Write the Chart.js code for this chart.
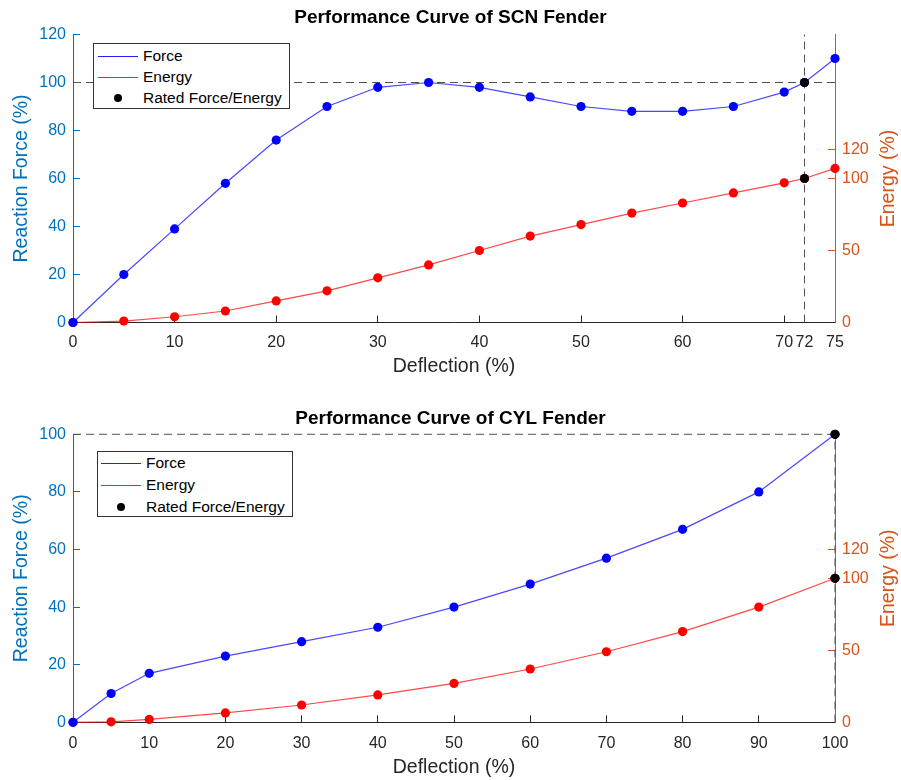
<!DOCTYPE html>
<html>
<head>
<meta charset="utf-8">
<title>Fender performance curves</title>
<script src="https://cdn.jsdelivr.net/npm/chart.js@4.4.1/dist/chart.umd.min.js"></script>
<style>
  html, body { margin: 0; padding: 0; background: #fff; }
  body { width: 901px; height: 780px; position: relative; overflow: hidden; font-family: "Liberation Sans", Arial, Helvetica, sans-serif; }
  .panel { position: absolute; left: 0; width: 901px; height: 390px; }
  .panel canvas { display: block; }
  .legend { position: absolute; box-sizing: border-box; background: #fff; border: 1px solid #333; font-size: 15.5px; color: #000; }
  .legend .row { position: relative; }
  .legend .key { position: absolute; top: 50%; width: 40px; height: 0; }
  .legend .key .ln { position: absolute; left: 0; width: 40px; top: 0; height: 0; border-top: 1px solid; }
  .legend .key .dot { position: absolute; left: 16px; top: -4px; width: 8px; height: 8px; border-radius: 50%; }
  .legend .txt { position: absolute; top: 50%; transform: translateY(-50%); white-space: nowrap; }
</style>
</head>
<body>
<div class="panel" id="scnPanel" style="top:0"><canvas id="scnChart" width="901" height="390"></canvas></div>
<div class="panel" id="cylPanel" style="top:390px"><canvas id="cylChart" width="901" height="390"></canvas></div>
<script>
// SCN fender (top)
const scnDeflection = [0, 5, 10, 15, 20, 25, 30, 35, 40, 45, 50, 55, 60, 65, 70, 72, 75];
const scnForce      = [0, 20, 39, 58, 76, 90, 98, 100, 98, 94, 90, 88, 88, 90, 96, 100, 110];
const scnEnergy     = [0, 1, 4, 8, 15, 22, 31, 40, 50, 60, 68, 76, 83, 90, 97, 100, 107];
const scnRated      = [72, 100, 100]; // deflection, force, energy
const scnXTicks     = [0, 10, 20, 30, 40, 50, 60, 70, 72, 75];
const scnForceTicks = [0, 20, 40, 60, 80, 100, 120];

// CYL fender (bottom)
const cylDeflection = [0, 5, 10, 20, 30, 40, 50, 60, 70, 80, 90, 100];
const cylForce      = [0, 10, 17, 23, 28, 33, 40, 48, 57, 67, 80, 100];
const cylEnergy     = [0, 0.3, 2, 6.5, 12, 19, 27, 37, 49, 63, 80, 100];
const cylRated      = [100, 100, 100];
const cylXTicks     = [0, 10, 20, 30, 40, 50, 60, 70, 80, 90, 100];
const cylForceTicks = [0, 20, 40, 60, 80, 100];

const energyTicks = [0, 50, 100, 120];
const energyMax = 200;

const BLUE_AX = '#0072BD', ORANGE_AX = '#D95319', DARK = '#262626';
Chart.defaults.font.family = '"Liberation Sans", Arial, Helvetica, sans-serif';

function pts(xs, ys) { return xs.map((x, i) => ({x: x, y: ys[i]})); }
function fixedTicks(arr) { return scale => { scale.ticks = arr.map(v => ({value: v})); }; }

// right axis label reads bottom-to-top like the left one
const rightTitle = {
  id: 'rightTitle',
  afterDraw(chart, args, opts) {
    const {ctx, chartArea} = chart;
    ctx.save();
    ctx.translate(opts.x, (chartArea.top + chartArea.bottom) / 2);
    ctx.rotate(-Math.PI / 2);
    ctx.font = '19.5px ' + Chart.defaults.font.family;
    ctx.fillStyle = opts.color;
    ctx.textAlign = 'center';
    ctx.textBaseline = 'middle';
    ctx.fillText(opts.text, 0, 0);
    ctx.restore();
  }
};

function fenderChart(canvasId, d, lay) {
  const xMax = d.xTicks[d.xTicks.length - 1];
  const yMax = d.forceTicks[d.forceTicks.length - 1];
  const [rx, rf, re] = d.rated;
  const datasets = [
    { label: 'Force', legend: true, keyColor: '#2020FF', data: pts(d.x, d.force), yAxisID: 'y',
      borderColor: 'rgba(0,0,255,0.72)', pointBackgroundColor: '#0000FF', borderWidth: 1.2,
      pointRadius: 4.6, pointBorderWidth: 0, order: 2, clip: false },
    { label: 'Energy', legend: true, keyColor: '#FF2020', data: pts(d.x, d.energy), yAxisID: 'y2',
      borderColor: 'rgba(255,0,0,0.72)', pointBackgroundColor: '#FF0000', borderWidth: 1.2,
      pointRadius: 4.6, pointBorderWidth: 0, order: 2, clip: false },
    { label: 'Rated Force/Energy', legend: true, keyColor: '#000', data: [{x: rx, y: rf}], yAxisID: 'y', showLine: false,
      pointBackgroundColor: '#000', borderColor: '#000', pointRadius: 4.6, pointBorderWidth: 0, order: 0, clip: false },
    { label: 'Rated Energy', data: [{x: rx, y: re}], yAxisID: 'y2', showLine: false,
      pointBackgroundColor: '#000', borderColor: '#000', pointRadius: 4.6, pointBorderWidth: 0, order: 0, clip: false },
    { label: 'rated force', data: [{x: 0, y: rf}, {x: xMax, y: rf}], yAxisID: 'y',
      borderColor: '#505050', borderWidth: 1, borderDash: [8, 5], pointRadius: 0, order: 3, clip: false },
    { label: 'rated deflection', data: [{x: rx, y: 0}, {x: rx, y: yMax}], yAxisID: 'y',
      borderColor: '#505050', borderWidth: 1, borderDash: [8, 5], pointRadius: 0, order: 3, clip: false }
  ];

  return new Chart(document.getElementById(canvasId), {
    type: 'line',
    data: { datasets: datasets },
    options: {
      responsive: false,
      animation: false,
      events: [],
      layout: { padding: 0 },
      elements: { line: { tension: 0, fill: false } },
      plugins: {
        legend: { display: false },
        tooltip: { enabled: false },
        title: { display: true, text: d.title, color: '#000', font: { size: 19, weight: 'bold' }, padding: lay.titlePad },
        rightTitle: { text: 'Energy (%)', color: ORANGE_AX, x: 889 }
      },
      scales: {
        x: {
          type: 'linear', min: 0, max: xMax,
          afterBuildTicks: fixedTicks(d.xTicks),
          afterFit: s => { s.height = lay.xHeight; },
          border: { color: DARK, width: 1 },
          grid: { drawOnChartArea: false, tickLength: -7, color: DARK },
          ticks: { autoSkip: false, maxRotation: 0, color: DARK, padding: lay.xTickPad, font: { size: 16 }, callback: v => String(v) },
          title: { display: true, text: 'Deflection (%)', color: DARK, font: { size: 19.5 }, padding: { top: 0, bottom: lay.xTitlePad } }
        },
        y: {
          position: 'left', min: 0, max: yMax,
          afterBuildTicks: fixedTicks(d.forceTicks),
          afterFit: s => { s.width = 73; },
          border: { color: BLUE_AX, width: 1 },
          grid: { drawOnChartArea: false, tickLength: -7, color: BLUE_AX },
          ticks: { color: BLUE_AX, padding: 14, font: { size: 16 }, callback: v => String(v) },
          title: { display: true, text: 'Reaction Force (%)', color: BLUE_AX, font: { size: 19.5 }, padding: { top: 10, bottom: 0 } }
        },
        y2: {
          position: 'right', min: 0, max: energyMax,
          afterBuildTicks: fixedTicks(energyTicks),
          afterFit: s => { s.width = 66; },
          border: { color: ORANGE_AX, width: 1 },
          grid: { drawOnChartArea: false, tickLength: -7, color: ORANGE_AX },
          ticks: { color: ORANGE_AX, padding: 14, font: { size: 16 }, callback: v => String(v) }
        }
      }
    },
    plugins: [rightTitle]
  });
}

function addLegend(panelId, chart, box) {
  const lg = document.createElement('div');
  lg.className = 'legend';
  lg.style.left = box.left + 'px';
  lg.style.top = box.top + 'px';
  lg.style.width = box.width + 'px';
  lg.style.height = box.height + 'px';
  lg.style.paddingTop = box.padTop + 'px';
  chart.data.datasets.filter(ds => ds.legend).forEach(ds => {
    const row = document.createElement('div');
    row.className = 'row';
    row.style.height = box.row + 'px';
    const key = document.createElement('span');
    key.className = 'key';
    key.style.left = box.keyLeft + 'px';
    const mark = document.createElement('span');
    if (ds.showLine === false) {
      mark.className = 'dot';
      mark.style.background = ds.keyColor;
    } else {
      mark.className = 'ln';
      mark.style.borderTopColor = ds.keyColor;
    }
    key.appendChild(mark);
    const txt = document.createElement('span');
    txt.className = 'txt';
    txt.style.left = box.textLeft + 'px';
    txt.textContent = ds.label;
    row.appendChild(key);
    row.appendChild(txt);
    lg.appendChild(row);
  });
  document.getElementById(panelId).appendChild(lg);
}

const scnChart = fenderChart('scnChart',
  { title: 'Performance Curve of SCN Fender', x: scnDeflection, force: scnForce, energy: scnEnergy,
    rated: scnRated, xTicks: scnXTicks, forceTicks: scnForceTicks },
  { titlePad: { top: 6.6, bottom: 5.1 }, xHeight: 67.5, xTickPad: 17, xTitlePad: 11.6 });

const cylChart = fenderChart('cylChart',
  { title: 'Performance Curve of CYL Fender', x: cylDeflection, force: cylForce, energy: cylEnergy,
    rated: cylRated, xTicks: cylXTicks, forceTicks: cylForceTicks },
  { titlePad: { top: 16.9, bottom: 4.6 }, xHeight: 57.7, xTickPad: 18.2, xTitlePad: 0.3 });

addLegend('scnPanel', scnChart, { left: 93, top: 43, width: 197, height: 66, padTop: 1, row: 21, keyLeft: 4, textLeft: 49 });
addLegend('cylPanel', cylChart, { left: 97, top: 61, width: 196, height: 66, padTop: 0, row: 22, keyLeft: 3, textLeft: 48 });
</script>
</body>
</html>
